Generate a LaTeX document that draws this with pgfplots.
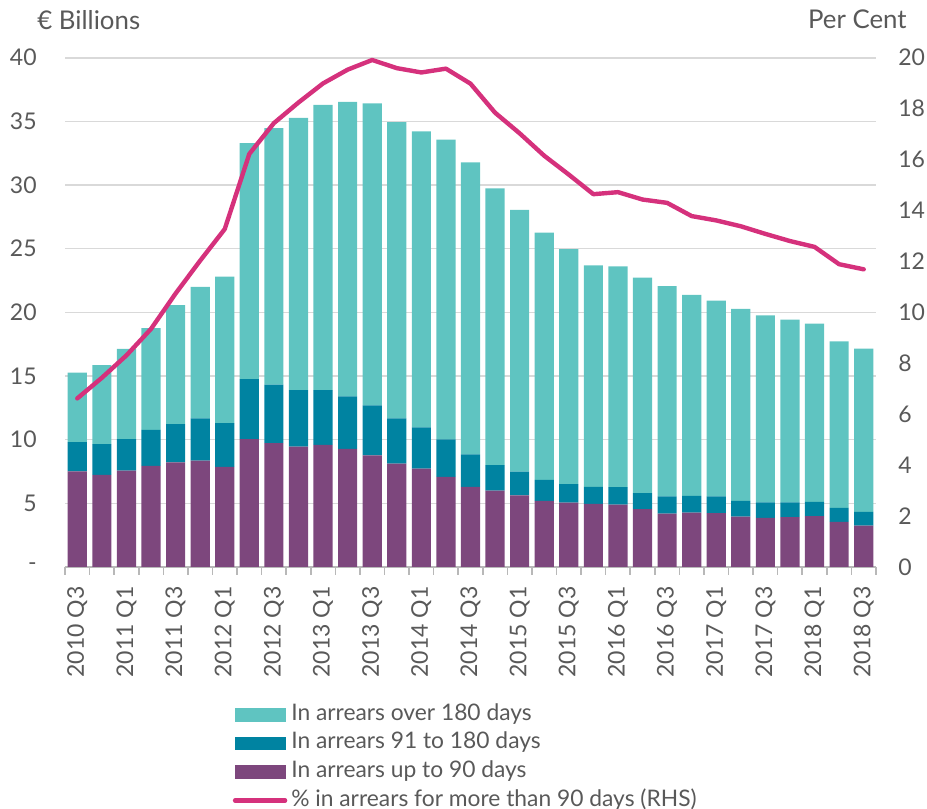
\documentclass[border=0pt]{standalone}
\usepackage{fontspec}
\setmainfont{Lato}
\usepackage{pgfplots}
\pgfplotsset{compat=1.18}
\usepackage{pgfplotstable}

\definecolor{tealL}{RGB}{95,196,193}
\definecolor{tealD}{RGB}{0,131,161}
\definecolor{purp}{RGB}{125,71,125}
\definecolor{pinkL}{RGB}{213,49,124}
\definecolor{txt}{RGB}{89,89,89}
\definecolor{gridc}{RGB}{217,217,217}

\pgfplotstableread{
x p d l r
0 7.51 2.30 5.46 6.62
1 7.24 2.41 6.21 7.43
2 7.57 2.48 7.09 8.31
3 7.95 2.81 8.00 9.35
4 8.22 3.00 9.35 10.74
5 8.35 3.33 10.32 12.03
6 7.86 3.44 11.51 13.27
7 10.05 4.71 18.54 16.22
8 9.73 4.59 20.14 17.43
9 9.46 4.43 21.38 18.24
10 9.59 4.30 22.41 18.99
11 9.27 4.14 23.13 19.53
12 8.76 3.94 23.71 19.91
13 8.11 3.57 23.27 19.59
14 7.73 3.24 23.25 19.42
15 7.08 2.95 23.54 19.57
16 6.30 2.54 22.94 18.98
17 6.00 2.00 21.73 17.84
18 5.62 1.87 20.56 17.03
19 5.19 1.65 19.43 16.15
20 5.05 1.46 18.46 15.41
21 4.95 1.35 17.38 14.64
22 4.89 1.38 17.35 14.72
23 4.54 1.27 16.92 14.43
24 4.19 1.35 16.51 14.30
25 4.27 1.32 15.79 13.78
26 4.24 1.30 15.38 13.61
27 3.95 1.24 15.08 13.38
28 3.86 1.22 14.68 13.08
29 3.92 1.16 14.35 12.80
30 4.00 1.11 14.00 12.57
31 3.54 1.11 13.08 11.89
32 3.24 1.08 12.84 11.69
}\data

\newcommand{\tfont}{\fontsize{11.5}{13}\selectfont}
\newcommand{\hfont}{\fontsize{12.9}{14}\selectfont}

\begin{document}
\begin{tikzpicture}
\useasboundingbox (0,0) rectangle (463.5pt,404.5pt);
\begin{axis}[
  at={(32.5pt,121pt)}, anchor=south west,
  scale only axis, width=405.5pt, height=254.65pt,
  xmin=-0.5, xmax=32.5, ymin=0, ymax=40,
  ybar stacked, bar width=0.78,
  axis x line*=bottom, axis y line*=left,
  y axis line style={draw=none},
  x axis line style={draw=gridc!85!black, line width=0.8pt},
  xtick={0,2,...,32},
  xticklabels={2010 Q3,2011 Q1,2011 Q3,2012 Q1,2012 Q3,2013 Q1,2013 Q3,2014 Q1,2014 Q3,2015 Q1,2015 Q3,2016 Q1,2016 Q3,2017 Q1,2017 Q3,2018 Q1,2018 Q3},
  minor xtick={-0.5,0.5,...,32.5},
  major tick length=0pt, minor tick length=4pt, tick align=outside,
  minor tick style={draw=gridc!85!black, line width=0.8pt},
  ytick={0,5,...,40},
  yticklabels={-,5,10,15,20,25,30,35,40},
  ymajorgrids, grid style={draw=gridc, line width=0.8pt},
  tick label style={font=\tfont, text=txt, inner sep=0pt},
  xticklabel style={rotate=90, anchor=east},
  xticklabel shift=9.5pt,
  yticklabel shift=14pt,
  ylabel={€ Billions},
  every axis y label/.style={at={(rel axis cs:-0.0345,1.0544)}, anchor=base west, inner sep=0pt, font=\hfont, text=txt},
]
\addplot[fill=purp, draw=none] table[x=x,y=p]{\data};
\addplot[fill=tealD, draw=none] table[x=x,y=d]{\data};
\addplot[fill=tealL, draw=none] table[x=x,y=l]{\data};
\end{axis}
\begin{axis}[
  at={(32.5pt,121pt)}, anchor=south west,
  scale only axis, width=405.5pt, height=254.65pt,
  xmin=-0.5, xmax=32.5, ymin=0, ymax=20,
  axis x line=none, axis y line*=right,
  y axis line style={draw=none},
  ytick={0,2,...,20},
  major tick length=0pt,
  yticklabels={0,2,4,6,8,10,12,14,16,18,20},
  tick label style={font=\tfont, text=txt, inner sep=0pt},
  yticklabel shift=11pt,
  ylabel={Per Cent},
  every axis y label/.style={at={(rel axis cs:1.0382,1.0583)}, anchor=base east, inner sep=0pt, font=\hfont, text=txt},
  legend style={at={(0.207,-0.269)}, anchor=north west, draw=none, fill=none,
    inner sep=0pt, outer sep=0pt, font=\fontsize{11.4}{12}\selectfont, text=txt,
    row sep=3.6pt, column sep=2pt,
    nodes={inner sep=0pt, text height=8.2pt, text depth=2.5pt}},
  legend cell align=left,
]
\addlegendimage{legend image code/.code={\fill[tealL] (0pt,-3.15pt) rectangle (25pt,3.15pt);}}
\addlegendentry{In arrears over 180 days}
\addlegendimage{legend image code/.code={\fill[tealD] (0pt,-3.15pt) rectangle (25pt,3.15pt);}}
\addlegendentry{In arrears 91 to 180 days}
\addlegendimage{legend image code/.code={\fill[purp] (0pt,-3.15pt) rectangle (25pt,3.15pt);}}
\addlegendentry{In arrears up to 90 days}
\addplot[pinkL, line width=2.2pt, line cap=round, line join=round,
  legend image code/.code={\draw[pinkL, line width=2.2pt, line cap=round] (0pt,0pt) -- (25pt,0pt);}]
  table[x=x,y=r]{\data};
\addlegendentry{\% in arrears for more than 90 days (RHS)}
\end{axis}
\end{tikzpicture}
\end{document}
